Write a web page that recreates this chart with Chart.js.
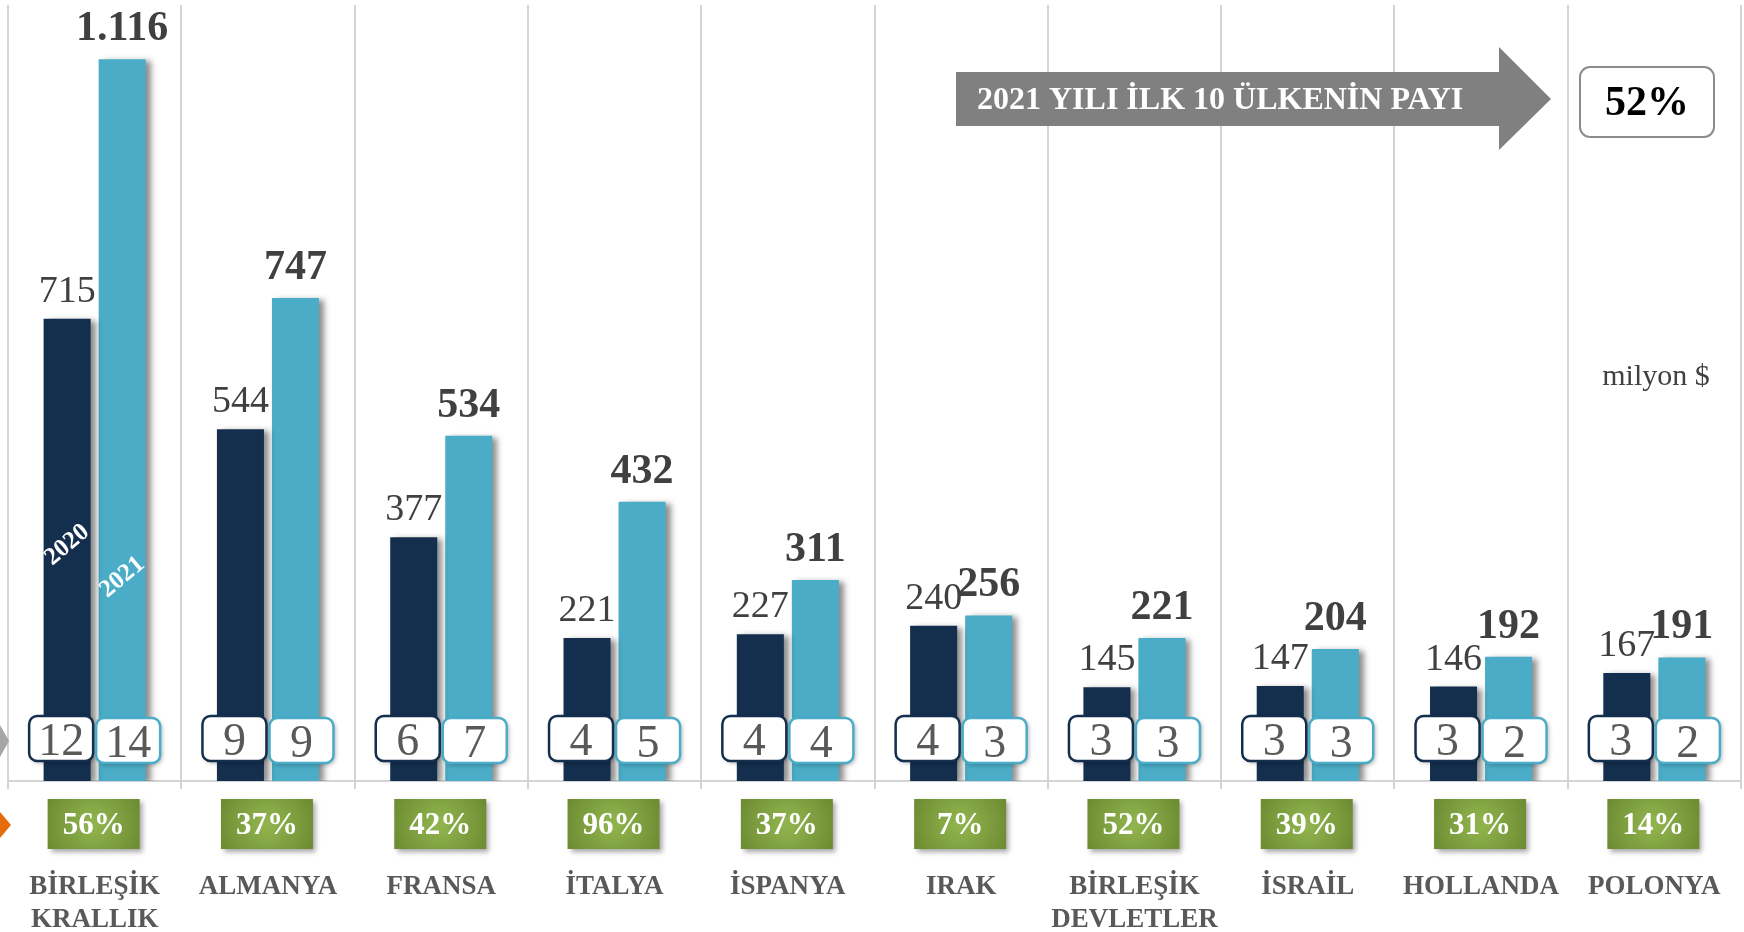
<!DOCTYPE html>
<html>
<head>
<meta charset="utf-8">
<script src="https://cdn.jsdelivr.net/npm/chart.js@4.4.0/dist/chart.umd.min.js"></script>
<style>
    html, body { margin: 0; padding: 0; background: #fff; }
    #wrap { width: 1744px; height: 932px; position: relative; }
</style>
</head>
<body>
<div id="wrap"><canvas id="myChart"></canvas></div>
<script>
/* ilk 10 ülke - 2020 / 2021 (milyon $) */
let countries = [['BİRLEŞİK', 'KRALLIK'], 'ALMANYA', 'FRANSA', 'İTALYA', 'İSPANYA', 'IRAK', ['BİRLEŞİK', 'DEVLETLER'], 'İSRAİL', 'HOLLANDA', 'POLONYA'];
let values2020 = [715, 544, 377, 221, 227, 240, 145, 147, 146, 167];
let values2021 = [1116, 747, 534, 432, 311, 256, 221, 204, 192, 191];
let share2020 = [12, 9, 6, 4, 4, 4, 3, 3, 3, 3];
let share2021 = [14, 9, 7, 5, 4, 3, 3, 3, 2, 2];
let changes = [56, 37, 42, 96, 37, 7, 52, 39, 31, 14];
let top10Share = 52;

const serif = "'Liberation Serif', 'Times New Roman', serif";
const dark = '#142e4d';
const light = '#4aacc6';

function fmt(n) {
    // 1116 -> 1.116
    return String(n).replace(/\B(?=(\d{3})+(?!\d))/g, '.');
}

function box(ctx, x, y, w, h, r) {
    ctx.beginPath();
    ctx.moveTo(x + r, y);
    ctx.arcTo(x + w, y, x + w, y + h, r);
    ctx.arcTo(x + w, y + h, x, y + h, r);
    ctx.arcTo(x, y + h, x, y, r);
    ctx.arcTo(x, y, x + w, y, r);
    ctx.closePath();
}

let extras = {
    id: 'extras',
    beforeDatasetsDraw(chart) {
        let ctx = chart.ctx;
        ctx.save();
        ctx.shadowColor = 'rgba(0,0,0,0.45)';
        ctx.shadowBlur = 6;
        ctx.shadowOffsetX = 5;
        ctx.shadowOffsetY = 2;
    },
    afterDatasetsDraw(chart) {
        let ctx = chart.ctx;
        ctx.restore();
        let yScale = chart.scales.y;
        let m0 = chart.getDatasetMeta(0).data;
        let m1 = chart.getDatasetMeta(1).data;

        // değer etiketleri
        ctx.save();
        ctx.textAlign = 'center';
        ctx.textBaseline = 'alphabetic';
        ctx.fillStyle = '#404040';
        for (let i = 0; i < m0.length; i++) {
            ctx.font = '38px ' + serif;
            ctx.fillText(fmt(values2020[i]), m0[i].x, m0[i].y - 17);
            ctx.font = 'bold 42px ' + serif;
            ctx.fillText(fmt(values2021[i]), m1[i].x, m1[i].y - 19);
        }

        // pay kutuları
        for (let i = 0; i < m0.length; i++) {
            let pairs = [[m0[i].x - 6, share2020[i], dark, 0], [m1[i].x + 6, share2021[i], light, 2]];
            pairs.forEach(function (p) {
                let w = 64, h = 45, x = p[0] - w / 2, y = 716 + p[3];
                ctx.save();
                ctx.shadowColor = 'rgba(0,0,0,0.3)';
                ctx.shadowBlur = 4;
                ctx.shadowOffsetX = 2;
                ctx.shadowOffsetY = 2;
                box(ctx, x, y, w, h, 8);
                ctx.fillStyle = '#fff';
                ctx.fill();
                ctx.restore();
                box(ctx, x, y, w, h, 8);
                ctx.lineWidth = 2.5;
                ctx.strokeStyle = p[2];
                ctx.stroke();
                ctx.fillStyle = '#595959';
                ctx.font = '46px ' + serif;
                ctx.fillText(String(p[1]), p[0], y + 39);
            });
        }

        // yıl etiketleri
        ctx.fillStyle = '#fff';
        ctx.font = 'bold 25px ' + serif;
        ctx.textBaseline = 'middle';
        [[m0[0].x, yScale.getPixelForValue(365), '2020'], [m1[0].x, yScale.getPixelForValue(315), '2021']].forEach(function (t) {
            ctx.save();
            ctx.translate(t[0], t[1]);
            ctx.rotate(-40 * Math.PI / 180);
            ctx.fillText(t[2], 0, 0);
            ctx.restore();
        });
        ctx.restore();
    },
    afterDraw(chart) {
        let ctx = chart.ctx;
        let xScale = chart.scales.x;
        ctx.save();

        // artış kutuları
        for (let i = 0; i < changes.length; i++) {
            let cx = xScale.getPixelForValue(i) - 1;
            let w = 92, h = 50, x = cx - w / 2, y = 799;
            let g = ctx.createRadialGradient(cx, y + h / 2, 5, cx, y + h / 2, 55);
            g.addColorStop(0, '#8fb24c');
            g.addColorStop(1, '#6a8830');
            ctx.save();
            ctx.shadowColor = 'rgba(0,0,0,0.35)';
            ctx.shadowBlur = 5;
            ctx.shadowOffsetX = 3;
            ctx.shadowOffsetY = 3;
            ctx.fillStyle = g;
            ctx.fillRect(x, y, w, h);
            ctx.restore();
            ctx.fillStyle = '#fff';
            ctx.font = 'bold 31px ' + serif;
            ctx.textAlign = 'center';
            ctx.textBaseline = 'middle';
            ctx.fillText(changes[i] + '%', cx, y + h / 2 + 2);
        }

        // ok
        ctx.fillStyle = '#808080';
        ctx.beginPath();
        ctx.moveTo(956, 72);
        ctx.lineTo(1499, 72);
        ctx.lineTo(1499, 47);
        ctx.lineTo(1551, 99);
        ctx.lineTo(1499, 150);
        ctx.lineTo(1499, 126);
        ctx.lineTo(956, 126);
        ctx.closePath();
        ctx.fill();
        ctx.fillStyle = '#fff';
        ctx.font = 'bold 32px ' + serif;
        ctx.textAlign = 'left';
        ctx.textBaseline = 'middle';
        ctx.fillText('2021 YILI İLK 10 ÜLKENİN PAYI', 977, 101, 490);

        // pay kutusu
        box(ctx, 1580, 67, 134, 70, 10);
        ctx.fillStyle = '#fff';
        ctx.fill();
        ctx.lineWidth = 2;
        ctx.strokeStyle = '#8c8c8c';
        ctx.stroke();
        ctx.fillStyle = '#000';
        ctx.font = 'bold 42px ' + serif;
        ctx.textAlign = 'center';
        ctx.fillText(top10Share + '%', 1647, 104);

        // birim
        ctx.fillStyle = '#404040';
        ctx.font = '30px ' + serif;
        ctx.fillText('milyon $', 1656, 377);

        // soldaki kesik oklar
        ctx.fillStyle = '#a6a6a6';
        ctx.beginPath();
        ctx.moveTo(0, 725);
        ctx.lineTo(9, 741);
        ctx.lineTo(0, 757);
        ctx.closePath();
        ctx.fill();
        ctx.fillStyle = '#e46c0a';
        ctx.beginPath();
        ctx.moveTo(0, 812);
        ctx.lineTo(11, 825);
        ctx.lineTo(0, 838);
        ctx.closePath();
        ctx.fill();
        ctx.restore();
    }
};

let ctx = document.getElementById('myChart').getContext('2d');

let myChart = new Chart(ctx, {
    type: 'bar',
    data: {
        labels: countries,
        datasets: [{
            label: '2020',
            data: values2020,
            backgroundColor: dark,
            barPercentage: 0.855,
            categoryPercentage: 0.635
        }, {
            label: '2021',
            data: values2021,
            backgroundColor: light,
            barPercentage: 0.855,
            categoryPercentage: 0.635
        }]
    },
    options: {
        responsive: true,
        maintainAspectRatio: false,
        animation: false,
        layout: {
            padding: { left: 8, right: 3, top: 5, bottom: 0 }
        },
        plugins: {
            legend: { display: false },
            tooltip: { enabled: false }
        },
        scales: {
            x: {
                afterFit(scale) {
                    // etiket boşluğu grafiği daraltmasın
                    scale.paddingLeft = 0;
                    scale.paddingRight = 0;
                    scale.height = 151;
                },
                grid: {
                    offset: true,
                    color: '#d4d4d4',
                    lineWidth: 2,
                    tickLength: 8
                },
                border: { color: '#d4d4d4', width: 2 },
                ticks: {
                    color: '#595959',
                    font: { family: serif, size: 27, weight: 'bold', lineHeight: 1.2 },
                    padding: 82,
                    maxRotation: 0,
                    minRotation: 0,
                    autoSkip: false
                }
            },
            y: {
                display: false,
                min: 0,
                max: 1200
            }
        }
    },
    plugins: [extras]
});
</script>
</body>
</html>
